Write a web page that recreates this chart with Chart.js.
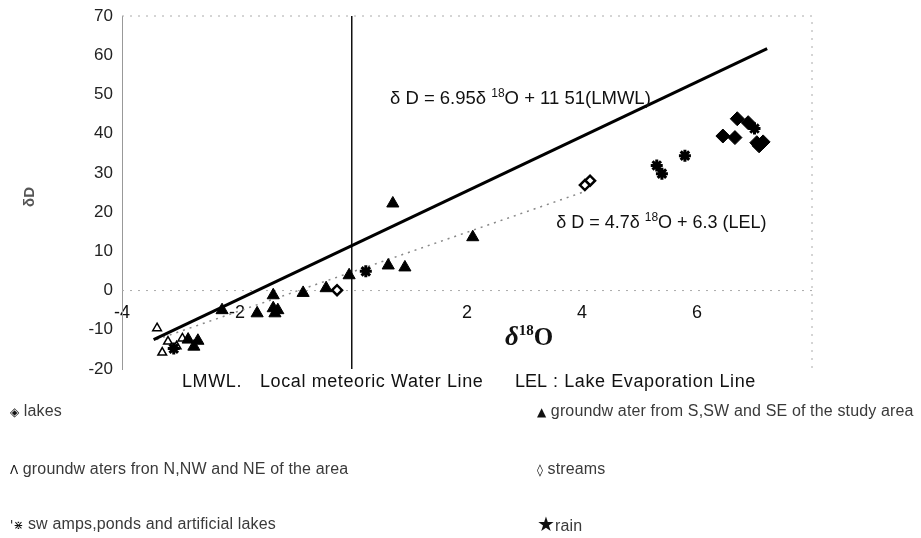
<!DOCTYPE html>
<html>
<head>
<meta charset="utf-8">
<script src="https://cdn.jsdelivr.net/npm/chart.js@4.4.1/dist/chart.umd.min.js"></script>
<style>
  html, body { margin: 0; padding: 0; background: #fff; }
  #wrap { position: relative; width: 921px; height: 538px; overflow: hidden; }
  #chart { position: absolute; left: 0; top: 0; }
  .t { position: absolute; font-family: 'Liberation Sans', Arial, sans-serif; font-size: 16px; letter-spacing: 0.15px; color: #3a3a3a; white-space: nowrap; line-height: 20px; }
  .note { font-size: 18px; color: #111; letter-spacing: 0.6px; }
  .sym { font-family: 'DejaVu Sans', sans-serif; font-size: 12px; color: #111; letter-spacing: 0; }
</style>
</head>
<body>
<div id="wrap">
  <canvas id="chart" width="921" height="538"></canvas>
  <div class="t note" style="left:182px;top:371px">LMWL.</div>
  <div class="t note" style="left:260px;top:371px">Local meteoric Water Line</div>
  <div class="t note" style="left:515px;top:371px;letter-spacing:0">LEL</div>
  <div class="t note" style="left:553px;top:371px">: Lake Evaporation Line</div>
  <div class="t" style="left:10px;top:401px"><span class="sym">&#9672;</span> lakes</div>
  <div class="t" style="left:537px;top:401px"><span class="sym">&#9650;</span> groundw ater from S,SW and SE of the study area</div>
  <div class="t" style="left:10px;top:459px"><span class="sym">&#923;</span> groundw aters fron N,NW and NE of the area</div>
  <div class="t" style="left:537px;top:459px"><span class="sym" style="font-weight:bold">&#9674;</span> streams</div>
  <div class="t" style="left:10px;top:514px"><span class="sym">'&#8903;</span> sw amps,ponds and artificial lakes</div>
  <div class="t" style="left:537px;top:514px"><span class="sym" style="font-size:20px">&#9733;</span>rain</div>
</div>
<script>
'use strict'

// regression lines, end points
const lmwlX = [-3.45, 7.22]
const lmwlY = [-12.5, 61.7]
const lelX = [-3.4, 4.0]
const lelY = [-12.5, 25.0]

// samples (δ18O, δD)
const lakesX = [6.45, 6.66, 6.70, 6.89, 7.04, 7.15, 7.08]
const lakesY = [39.4, 39.0, 43.8, 42.8, 37.7, 37.9, 36.9]

const gwSouthX = [0.71, 2.10, 0.63, 0.92, -0.05, -0.45, -0.85, -1.37, -1.37, -1.29, -1.34, -1.65, -2.26, -2.85, -2.68, -2.75]
const gwSouthY = [22.2, 13.6, 6.4, 5.9, 3.9, 0.6, -0.6, -1.2, -4.5, -5.0, -5.8, -5.8, -5.0, -12.5, -12.8, -14.3]

const gwNorthX = [-3.39, -3.2, -3.05, -3.3, -2.95]
const gwNorthY = [-9.6, -13.0, -14.2, -15.8, -12.2]

const streamsX = [4.14, 4.05, -0.26]
const streamsY = [28.0, 26.9, 0.1]

const swampsX = [0.24, 5.30, 5.39, 5.79, 7.0, -3.1]
const swampsY = [4.9, 31.9, 29.8, 34.4, 41.3, -14.8]

const rainX = []
const rainY = []

const xTicksHidden = [0, 8]

function pts(xs, ys) {
  return xs.map((v, i) => ({ x: v, y: ys[i] }))
}

function drawRich(ctx, parts, px, py) {
  let cx = px
  for (const p of parts) {
    ctx.font = p.font
    ctx.fillText(p.t, cx, py + (p.dy || 0))
    cx += ctx.measureText(p.t).width
  }
}

const SANS = "'Liberation Sans', Arial, sans-serif"
const SERIF = "'Liberation Serif', 'Times New Roman', serif"

const notesPlugin = {
  id: 'notes',
  beforeDatasetsDraw(chart) {
    const { ctx, chartArea: a, scales: { y } } = chart
    const y0 = y.getPixelForValue(0)
    ctx.save()
    ctx.strokeStyle = '#aaa'
    ctx.lineWidth = 1
    ctx.setLineDash([2, 6])
    ctx.beginPath()
    ctx.moveTo(a.left, a.top)
    ctx.lineTo(a.right, a.top)
    ctx.lineTo(a.right, a.bottom)
    ctx.moveTo(a.left, y0)
    ctx.lineTo(a.right, y0)
    ctx.stroke()
    ctx.restore()
  },
  afterDatasetsDraw(chart) {
    const { ctx, scales: { x, y } } = chart
    ctx.save()
    ctx.fillStyle = '#111'
    ctx.textBaseline = 'alphabetic'
    drawRich(ctx, [
      { t: 'δ D = 6.95δ ', font: `18.5px ${SANS}` },
      { t: '18', font: `12px ${SANS}`, dy: -7 },
      { t: 'O + 11 51(LMWL)', font: `18.5px ${SANS}` },
    ], x.getPixelForValue(0.66), y.getPixelForValue(47.6))
    drawRich(ctx, [
      { t: 'δ D = 4.7δ ', font: `18px ${SANS}` },
      { t: '18', font: `12px ${SANS}`, dy: -7 },
      { t: 'O + 6.3 (LEL)', font: `18px ${SANS}` },
    ], x.getPixelForValue(3.55), y.getPixelForValue(15.9))
    drawRich(ctx, [
      { t: 'δ', font: `italic bold 27px ${SERIF}` },
      { t: '18', font: `bold 15px ${SERIF}`, dy: -10 },
      { t: 'O', font: `bold 25px ${SERIF}` },
    ], x.getPixelForValue(2.66), y.getPixelForValue(-14.0))
    ctx.translate(30, 197)
    ctx.rotate(-Math.PI / 2)
    ctx.font = `bold 15px ${SANS}`
    ctx.fillStyle = '#555'
    ctx.textAlign = 'center'
    ctx.textBaseline = 'middle'
    ctx.fillText('δD', 0, 0)
    ctx.restore()
  },
}

new Chart(document.getElementById('chart'), {
  type: 'scatter',
  data: {
    datasets: [
      {
        label: 'LMWL',
        data: pts(lmwlX, lmwlY),
        showLine: true,
        borderColor: '#000',
        borderWidth: 3,
        pointRadius: 0,
        order: 5,
      },
      {
        label: 'LEL',
        data: pts(lelX, lelY),
        showLine: true,
        borderColor: '#888',
        borderWidth: 1.5,
        borderDash: [2, 5],
        pointRadius: 0,
        order: 5,
      },
      {
        label: 'lakes',
        data: pts(lakesX, lakesY),
        pointStyle: 'rectRot',
        pointRadius: 7,
        backgroundColor: '#000',
        borderColor: '#000',
      },
      {
        label: 'groundwater from S,SW and SE of the study area',
        data: pts(gwSouthX, gwSouthY),
        pointStyle: 'triangle',
        pointRadius: 7,
        backgroundColor: '#000',
        borderColor: '#000',
      },
      {
        label: 'groundwaters fron N,NW and NE of the area',
        data: pts(gwNorthX, gwNorthY),
        pointStyle: 'triangle',
        pointRadius: 5,
        backgroundColor: 'rgba(0,0,0,0)',
        borderColor: '#000',
        borderWidth: 1.5,
      },
      {
        label: 'streams',
        data: pts(streamsX, streamsY),
        pointStyle: 'rectRot',
        pointRadius: 5,
        backgroundColor: '#fff',
        borderColor: '#000',
        borderWidth: 2.5,
      },
      {
        label: 'swamps,ponds and artificial lakes',
        data: pts(swampsX, swampsY),
        pointStyle: 'star',
        pointRadius: 6,
        borderColor: '#000',
        borderWidth: 3,
      },
      {
        label: 'rain',
        data: pts(rainX, rainY),
        pointStyle: 'star',
        pointRadius: 7,
        borderColor: '#000',
      },
    ],
  },
  options: {
    responsive: false,
    animation: false,
    devicePixelRatio: 1,
    layout: { padding: { top: 16, right: 109, bottom: 169, left: 0 } },
    plugins: {
      legend: { display: false },
      tooltip: { enabled: false },
    },
    scales: {
      x: {
        type: 'linear',
        min: -4,
        max: 8,
        position: { y: 0 },
        ticks: {
          stepSize: 2,
          padding: 12,
          color: '#111',
          font: { family: SANS, size: 18 },
          callback(v) {
            return xTicksHidden.includes(v) ? '' : String(v)
          },
        },
        grid: {
          drawTicks: false,
          color: (c) => (c.tick && c.tick.value === 0 ? '#111' : 'rgba(0,0,0,0)'),
          lineWidth: 1.5,
        },
        border: { display: false },
      },
      y: {
        type: 'linear',
        min: -20,
        max: 70,
        position: 'left',
        afterFit(scale) {
          scale.width = 122
          scale.paddingTop = 0
          scale.paddingBottom = 0
        },
        ticks: {
          stepSize: 10,
          padding: 9,
          color: '#222',
          font: { family: SANS, size: 17 },
        },
        grid: { display: false, drawTicks: false },
        border: { display: true, color: '#999', dash: [2, 6], width: 1 },
      },
    },
  },
  plugins: [notesPlugin],
})
</script>
</body>
</html>
